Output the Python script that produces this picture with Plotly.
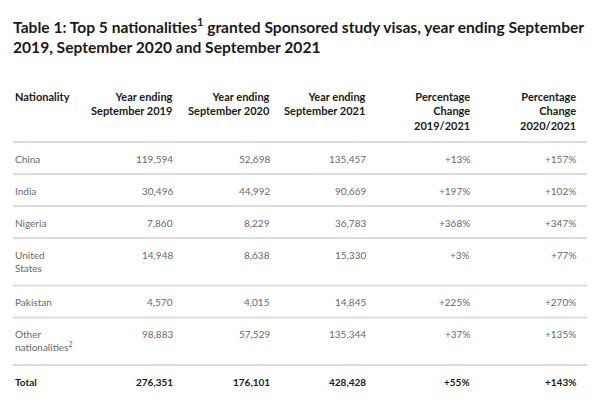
import plotly.graph_objects as go

# ---- data ----
title_lines = ["Table 1: Top 5 nationalities<sup>1</sup> granted Sponsored study visas, year ending September",
               "2019, September 2020 and September 2021"]
headers = ["Nationality",
           "Year ending<br>September 2019",
           "Year ending<br>September 2020",
           "Year ending<br>September 2021",
           "Percentage<br>Change<br>2019/2021",
           "Percentage<br>Change<br>2020/2021"]
nationalities = ["China", "India", "Nigeria", "United<br>States", "Pakistan",
                 "Other<br>nationalities<sup>2</sup>", "Total"]
ye_2019 = [119594, 30496, 7860, 14948, 4570, 98883, 276351]
ye_2020 = [52698, 44992, 8229, 8638, 4015, 57529, 176101]
ye_2021 = [135457, 90669, 36783, 15330, 14845, 135344, 428428]
pct_2019_2021 = [13, 197, 368, 3, 225, 37, 55]
pct_2020_2021 = [157, 102, 347, 77, 270, 135, 143]

# ---- layout constants ----
FONT = "Lato"
DARK = "#1a1a1a"
BODY = "#6a6a6a"
LINE = "#dcdcdc"
LEFT, RIGHT = 13, 587
COL_X = [13, 175, 272, 368, 472, 578]
TITLE_MID = 35
HEADER_TOP = 88
HEADER_BOTTOM = 142
ROW_UNIT = 32
EXTRA_LINE = 15.5

columns = [nationalities,
           [f"{v:,}" for v in ye_2019],
           [f"{v:,}" for v in ye_2020],
           [f"{v:,}" for v in ye_2021],
           [f"+{v}%" for v in pct_2019_2021],
           [f"+{v}%" for v in pct_2020_2021]]

fig = go.Figure()
fig.add_trace(go.Scatter(x=[0, 600], y=[0, 400], mode="markers",
                         marker=dict(opacity=0), hoverinfo="skip", showlegend=False))

annotations = []
shapes = []

# title
annotations.append(dict(x=11, y=TITLE_MID, xref="x", yref="y",
                        xanchor="left", yanchor="middle",
                        text="<b>" + "<br>".join(title_lines) + "</b>",
                        showarrow=False, align="left",
                        font=dict(family=FONT, size=15.6, color=DARK)))

# header
for j, h in enumerate(headers):
    annotations.append(dict(x=COL_X[j], y=HEADER_TOP, xref="x", yref="y",
                            xanchor="left" if j == 0 else "right", yanchor="top",
                            text=f"<b>{h}</b>", showarrow=False,
                            align="left" if j == 0 else "right",
                            font=dict(family=FONT, size=11, color=DARK)))
shapes.append(dict(type="line", xref="x", yref="y", x0=LEFT, x1=RIGHT,
                   y0=HEADER_BOTTOM, y1=HEADER_BOTTOM, line=dict(color=LINE, width=2)))

# rows
top = HEADER_BOTTOM
n = len(nationalities)
for i in range(n):
    nlines = max(str(col[i]).count("<br>") + 1 for col in columns)
    height = ROW_UNIT + EXTRA_LINE * (nlines - 1)
    is_total = (i == n - 1)
    for j, col in enumerate(columns):
        txt = col[i]
        if is_total:
            txt = f"<b>{txt}</b>"
        annotations.append(dict(x=COL_X[j], y=top + 8.5, xref="x", yref="y",
                                xanchor="left" if j == 0 else "right", yanchor="top",
                                text=txt, showarrow=False,
                                align="left" if j == 0 else "right",
                                font=dict(family=FONT, size=10,
                                          color=DARK if is_total else BODY)))
    top += height
    if not is_total:
        shapes.append(dict(type="line", xref="x", yref="y", x0=LEFT, x1=RIGHT,
                           y0=top, y1=top, line=dict(color=LINE, width=2)))

fig.update_layout(
    width=600, height=400,
    margin=dict(l=0, r=0, t=0, b=0),
    paper_bgcolor="white", plot_bgcolor="white",
    xaxis=dict(range=[0, 600], visible=False, fixedrange=True),
    yaxis=dict(range=[400, 0], visible=False, fixedrange=True),
    annotations=annotations, shapes=shapes, showlegend=False,
)

fig.write_html("out.html", config={"displayModeBar": False},
               post_script="document.body.style.margin='0';document.body.style.overflow='hidden';")
